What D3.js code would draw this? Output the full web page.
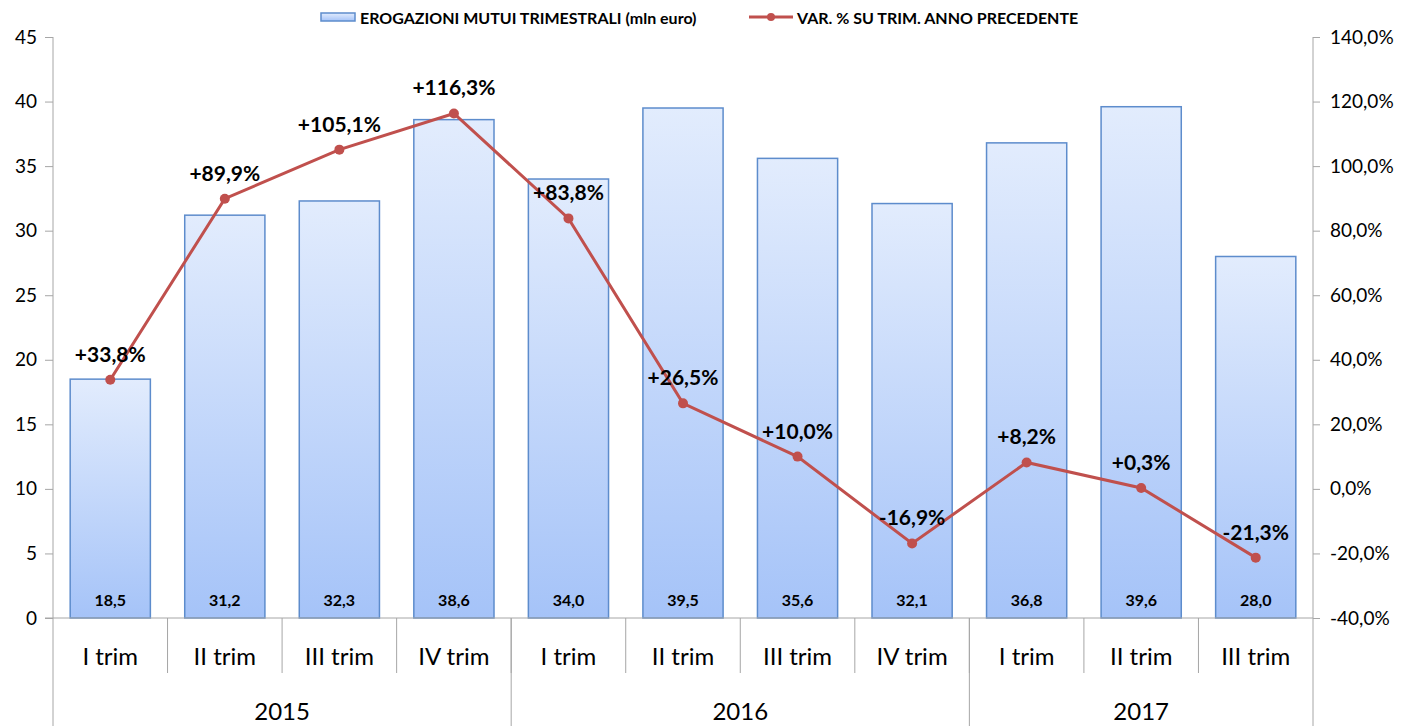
<!DOCTYPE html>
<html>
<head>
<meta charset="utf-8">
<script src="https://cdn.jsdelivr.net/npm/d3@7"></script>
<style>
  body { margin: 0; background: #fff; }
  svg { display: block; font-family: Lato, "Open Sans", sans-serif; }
</style>
</head>
<body>
<svg id="chart" width="1412" height="726"></svg>
<script>
// data
var quarters = ["I trim", "II trim", "III trim", "IV trim", "I trim", "II trim", "III trim", "IV trim", "I trim", "II trim", "III trim"];
var years = ["2015", "2016", "2017"];
var yearCounts = [4, 4, 3];
var erogazioni = [18.5, 31.2, 32.3, 38.6, 34.0, 39.5, 35.6, 32.1, 36.8, 39.6, 28.0];
var varPct = [33.8, 89.9, 105.1, 116.3, 83.8, 26.5, 10.0, -16.9, 8.2, 0.3, -21.3];
var leftTicks = [0, 5, 10, 15, 20, 25, 30, 35, 40, 45];
var rightTicks = [-40, -20, 0, 20, 40, 60, 80, 100, 120, 140];

var svg = d3.select("#chart"),
    margin = {top: 37, right: 99, bottom: 108, left: 53},
    width = +svg.attr("width") - margin.left - margin.right,
    height = +svg.attr("height") - margin.top - margin.bottom;

var fmt = function(v) { return v.toFixed(1).replace(".", ","); };

var idx = d3.range(quarters.length);
var x = d3.scaleBand().domain(idx).range([0, width]).paddingInner(0.3).paddingOuter(0.15);
var yL = d3.scaleLinear().domain([0, 45]).range([height, 0]);
var yR = d3.scaleLinear().domain([-40, 140]).range([height, 0]);

var defs = svg.append("defs");
var grad = defs.append("linearGradient").attr("id", "barGrad")
    .attr("x1", 0).attr("y1", 0).attr("x2", 0).attr("y2", 1);
grad.append("stop").attr("offset", "0%").attr("stop-color", "#e2ecfd");
grad.append("stop").attr("offset", "100%").attr("stop-color", "#a5c3f8");

var g = svg.append("g")
    .attr("transform", "translate(" + margin.left + "," + margin.top + ")");

var axisColor = "#a6a6a6";

// bars
g.selectAll(".bar")
    .data(erogazioni)
  .enter().append("rect")
    .attr("class", "bar")
    .attr("x", function(d, i) { return x(i); })
    .attr("y", function(d) { return yL(d); })
    .attr("width", x.bandwidth())
    .attr("height", function(d) { return yL(0) - yL(d); })
    .attr("fill", "url(#barGrad)")
    .attr("stroke", "#5d8ccc")
    .attr("stroke-width", 1.5);

// bar values
g.selectAll(".barlab")
    .data(erogazioni)
  .enter().append("text")
    .attr("x", function(d, i) { return x(i) + x.bandwidth() / 2; })
    .attr("y", yL(0) - 12)
    .attr("text-anchor", "middle")
    .style("font-size", "16px")
    .style("font-weight", "bold")
    .text(function(d) { return fmt(d); });

// left axis
var leftAxis = g.append("g")
    .call(d3.axisLeft(yL).tickValues(leftTicks).tickSize(8).tickPadding(8).tickFormat(d3.format("d")));
leftAxis.select(".domain").remove();
leftAxis.selectAll("line").attr("stroke", axisColor);
leftAxis.selectAll("text").style("font-size", "19px").style("font-family", "Lato, sans-serif").attr("fill", "#000");
g.append("line").attr("x1", 0).attr("x2", 0).attr("y1", 0).attr("y2", height + margin.bottom)
    .attr("stroke", axisColor);

// right axis
var rightAxis = g.append("g")
    .attr("transform", "translate(" + width + ",0)")
    .call(d3.axisRight(yR).tickValues(rightTicks).tickSize(7).tickPadding(10)
        .tickFormat(function(d) { return fmt(d) + "%"; }));
rightAxis.select(".domain").remove();
rightAxis.selectAll("line").attr("stroke", axisColor);
rightAxis.selectAll("text").style("font-size", "19px").style("font-family", "Lato, sans-serif").attr("fill", "#000");
g.append("line").attr("x1", width).attr("x2", width).attr("y1", 0).attr("y2", height + margin.bottom)
    .attr("stroke", axisColor);

// category axis baseline
g.append("line").attr("x1", -8).attr("x2", width).attr("y1", height).attr("y2", height)
    .attr("stroke", axisColor);

var step = x.step();
// quarter separators
idx.forEach(function(i) {
  if (i === 0) return;
  var xs = x(i) - x.paddingInner() * step / 2;
  g.append("line").attr("x1", xs).attr("x2", xs).attr("y1", height).attr("y2", height + 55)
      .attr("stroke", axisColor);
});
g.selectAll(".qlab")
    .data(quarters)
  .enter().append("text")
    .attr("x", function(d, i) { return x(i) + x.bandwidth() / 2; })
    .attr("y", height + 47)
    .attr("text-anchor", "middle")
    .style("font-size", "24px")
    .text(function(d) { return d; });

// year groups
var start = 0;
years.forEach(function(yr, k) {
  var n = yearCounts[k];
  var a = start === 0 ? 0 : x(start) - x.paddingInner() * step / 2;
  var endI = start + n;
  var b = endI >= quarters.length ? width : x(endI) - x.paddingInner() * step / 2;
  if (start > 0) {
    g.append("line").attr("x1", a).attr("x2", a).attr("y1", height).attr("y2", height + margin.bottom)
        .attr("stroke", axisColor);
  }
  g.append("text")
      .attr("x", (a + b) / 2)
      .attr("y", height + 102)
      .attr("text-anchor", "middle")
      .style("font-size", "24px")
      .text(yr);
  start = endI;
});

// line series
var line = d3.line()
    .x(function(d, i) { return x(i) + x.bandwidth() / 2; })
    .y(function(d) { return yR(d); });
g.append("path")
    .datum(varPct)
    .attr("fill", "none")
    .attr("stroke", "#c0504d")
    .attr("stroke-width", 3)
    .attr("d", line);
g.selectAll(".dot")
    .data(varPct)
  .enter().append("circle")
    .attr("cx", function(d, i) { return x(i) + x.bandwidth() / 2; })
    .attr("cy", function(d) { return yR(d); })
    .attr("r", 5)
    .attr("fill", "#c0504d");
g.selectAll(".pctlab")
    .data(varPct)
  .enter().append("text")
    .attr("x", function(d, i) { return x(i) + x.bandwidth() / 2; })
    .attr("y", function(d) { return yR(d) - 18; })
    .attr("text-anchor", "middle")
    .style("font-size", "21px")
    .style("font-weight", "bold")
    .text(function(d) { return (d >= 0 ? "+" : "") + fmt(d) + "%"; });

// legend
var leg = svg.append("g").style("font-size", "16px").style("font-weight", "bold");
leg.append("rect").attr("x", 321).attr("y", 13).attr("width", 34).attr("height", 8)
    .attr("fill", "url(#barGrad)").attr("stroke", "#5d8ccc").attr("stroke-width", 1.5);
leg.append("text").attr("x", 360).attr("y", 24).text("EROGAZIONI MUTUI TRIMESTRALI (mln euro)");
leg.append("line").attr("x1", 749).attr("x2", 793).attr("y1", 17).attr("y2", 17)
    .attr("stroke", "#c0504d").attr("stroke-width", 3);
leg.append("circle").attr("cx", 771).attr("cy", 17).attr("r", 4).attr("fill", "#c0504d");
leg.append("text").attr("x", 797).attr("y", 24).text("VAR. % SU TRIM. ANNO PRECEDENTE");
</script>
</body>
</html>
